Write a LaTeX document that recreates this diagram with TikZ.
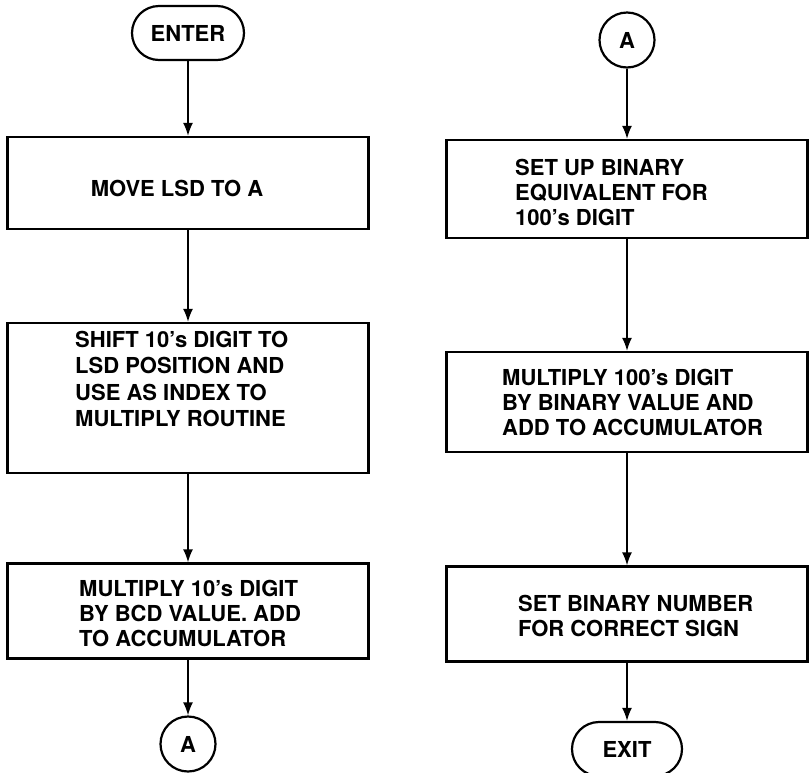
\documentclass[tikz,border=0pt]{standalone}
\usepackage{fontspec}
\setmainfont{TeX Gyre Heros}
\usetikzlibrary{arrows.meta}
\begin{document}
\begin{tikzpicture}[x=1pt,y=-1pt,
  every node/.style={font=\bfseries\fontsize{22}{25}\selectfont, inner sep=0pt},
  box/.style={draw, line width=2.2pt, rectangle, minimum width=361pt},
  term/.style={draw, line width=2.2pt, rectangle, rounded corners=27pt, minimum width=112pt, minimum height=54pt},
  conn/.style={draw, line width=2.2pt, circle, minimum size=55pt},
  txt/.style={align=left, anchor=west},
  flow/.style={line width=1.8pt, -{Latex[length=13pt,width=10pt]}}
]
\useasboundingbox (0,0) rectangle (810,772);
\clip (0,0) rectangle (810,772);

% left column
\node[term] (enter) at (188,33) {ENTER};
\node[box, minimum height=92pt] (b1) at (188,183) {};
\node (t1) at (177,188) {MOVE LSD TO A};
\node[box, minimum height=150pt] (b2) at (188,398) {};
\node[txt, font=\bfseries\fontsize{22}{26.5}\selectfont] (t2) at (75,379)
  {SHIFT 10’s DIGIT TO\\LSD POSITION AND\\USE AS INDEX TO\\MULTIPLY ROUTINE};
\node[box, minimum height=95pt] (b3) at (188,611) {};
\node[txt] (t3) at (79,613)
  {MULTIPLY 10’s DIGIT\\BY BCD VALUE. ADD\\TO ACCUMULATOR};
\node[conn] (ca) at (188,744) {A};

% right column
\node[conn] (cb) at (627,40) {A};
\node[box, minimum height=98pt] (r1) at (627,189) {};
\node[txt] (t4) at (515,192)
  {SET UP BINARY\\EQUIVALENT FOR\\100’s DIGIT};
\node[box, minimum height=100pt] (r2) at (627,402) {};
\node[txt] (t5) at (502,402)
  {MULTIPLY 100’s DIGIT\\BY BINARY VALUE AND\\ADD TO ACCUMULATOR};
\node[box, minimum height=95pt] (r3) at (627,614) {};
\node[txt] (t6) at (518,616)
  {SET BINARY NUMBER\\FOR CORRECT SIGN};
\node[term, minimum width=110pt] (exit) at (627,749) {EXIT};

% connectors
\draw[flow] (enter) -- (b1);
\draw[flow] (b1) -- (b2);
\draw[flow] (b2) -- (b3);
\draw[flow] (b3) -- (ca);
\draw[flow] (cb) -- (r1);
\draw[flow] (r1) -- (r2);
\draw[flow] (r2) -- (r3);
\draw[flow] (r3) -- (exit);
\end{tikzpicture}
\end{document}
